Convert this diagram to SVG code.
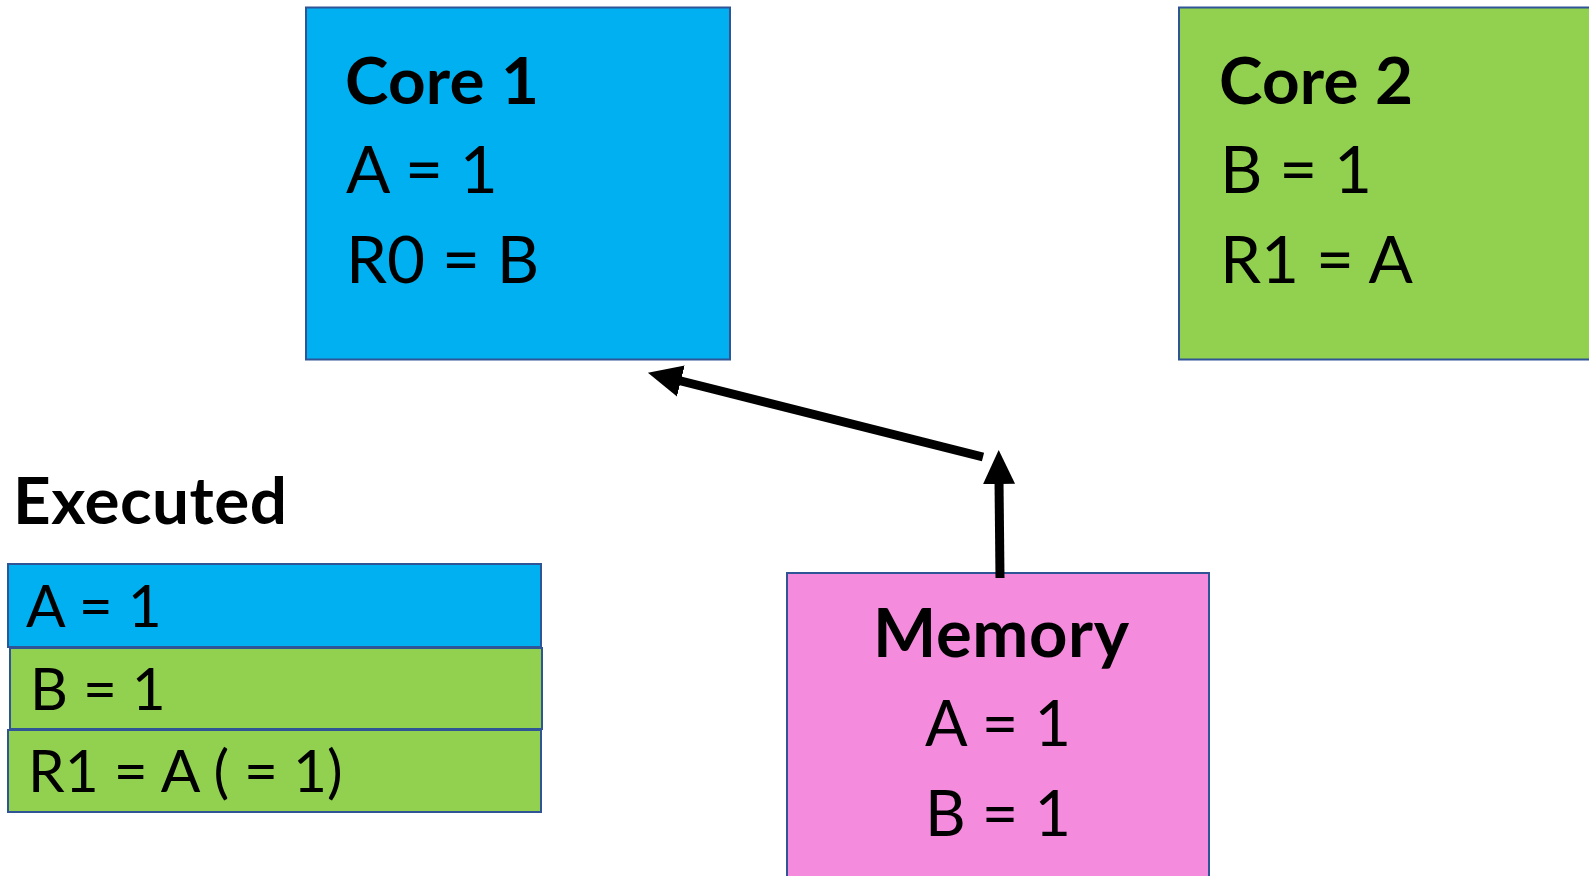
<svg xmlns="http://www.w3.org/2000/svg" width="1589" height="876" viewBox="0 0 1589 876">
<style>
.box{stroke:#2F5597;stroke-width:2}
.blue{fill:#00B0F0}
.green{fill:#92D050}
.pink{fill:#F48BDD}
text{font-family:Lato,"Liberation Sans",sans-serif;fill:#000}
.big{font-size:65.6px}
.b{font-weight:bold}
.mem{font-size:63px;text-anchor:middle}
.memh{font-size:67px}
.small{font-size:58.6px}
.conn{stroke:#000;stroke-width:9;fill:none}
</style>
<defs>
<marker id="ah" markerUnits="userSpaceOnUse" markerWidth="34" markerHeight="34" refX="4" refY="16" orient="auto" viewBox="0 0 34 32">
<path d="M0,0 L34,16 L0,32 Z" fill="#000"/>
</marker>
</defs>
<rect width="1589" height="876" fill="#fff"/>
<g id="core1">
<rect class="box blue" x="306" y="7.5" width="424" height="352"/>
<text class="big b" x="345" y="104" textLength="194" lengthAdjust="spacing">Core 1</text>
<text class="big" x="346" y="193">A = 1</text>
<text class="big" x="346" y="283">R0 = B</text>
</g>
<g id="core2">
<rect class="box green" x="1179" y="7.5" width="420" height="352"/>
<text class="big b" x="1219" y="104" textLength="194" lengthAdjust="spacing">Core 2</text>
<text class="big" x="1220" y="193">B = 1</text>
<text class="big" x="1220" y="283">R1 = A</text>
</g>
<g id="memory">
<rect class="box pink" x="787" y="573" width="422" height="320"/>
<text class="mem memh b" x="1001" y="657" textLength="256" lengthAdjust="spacing">Memory</text>
<text class="mem" x="998" y="746">A = 1</text>
<text class="mem" x="998" y="836">B = 1</text>
</g>
<g id="executed">
<text class="big b" x="13" y="524" textLength="274" lengthAdjust="spacing">Executed</text>
<rect class="box blue" x="8" y="564" width="533" height="83"/>
<text class="small" x="26" y="627">A = 1</text>
<rect class="box green" x="10" y="648" width="532" height="81"/>
<text class="small" x="30" y="710">B = 1</text>
<rect class="box green" x="8" y="730" width="533" height="82"/>
<text class="small" x="28" y="792">R1 = A ( = 1)</text>
</g>
<g id="connectors">
<line class="conn" x1="983" y1="457" x2="677" y2="380" marker-end="url(#ah)"/>
<line class="conn" x1="1000" y1="578" x2="999" y2="480" marker-end="url(#ah)"/>
</g>
</svg>
